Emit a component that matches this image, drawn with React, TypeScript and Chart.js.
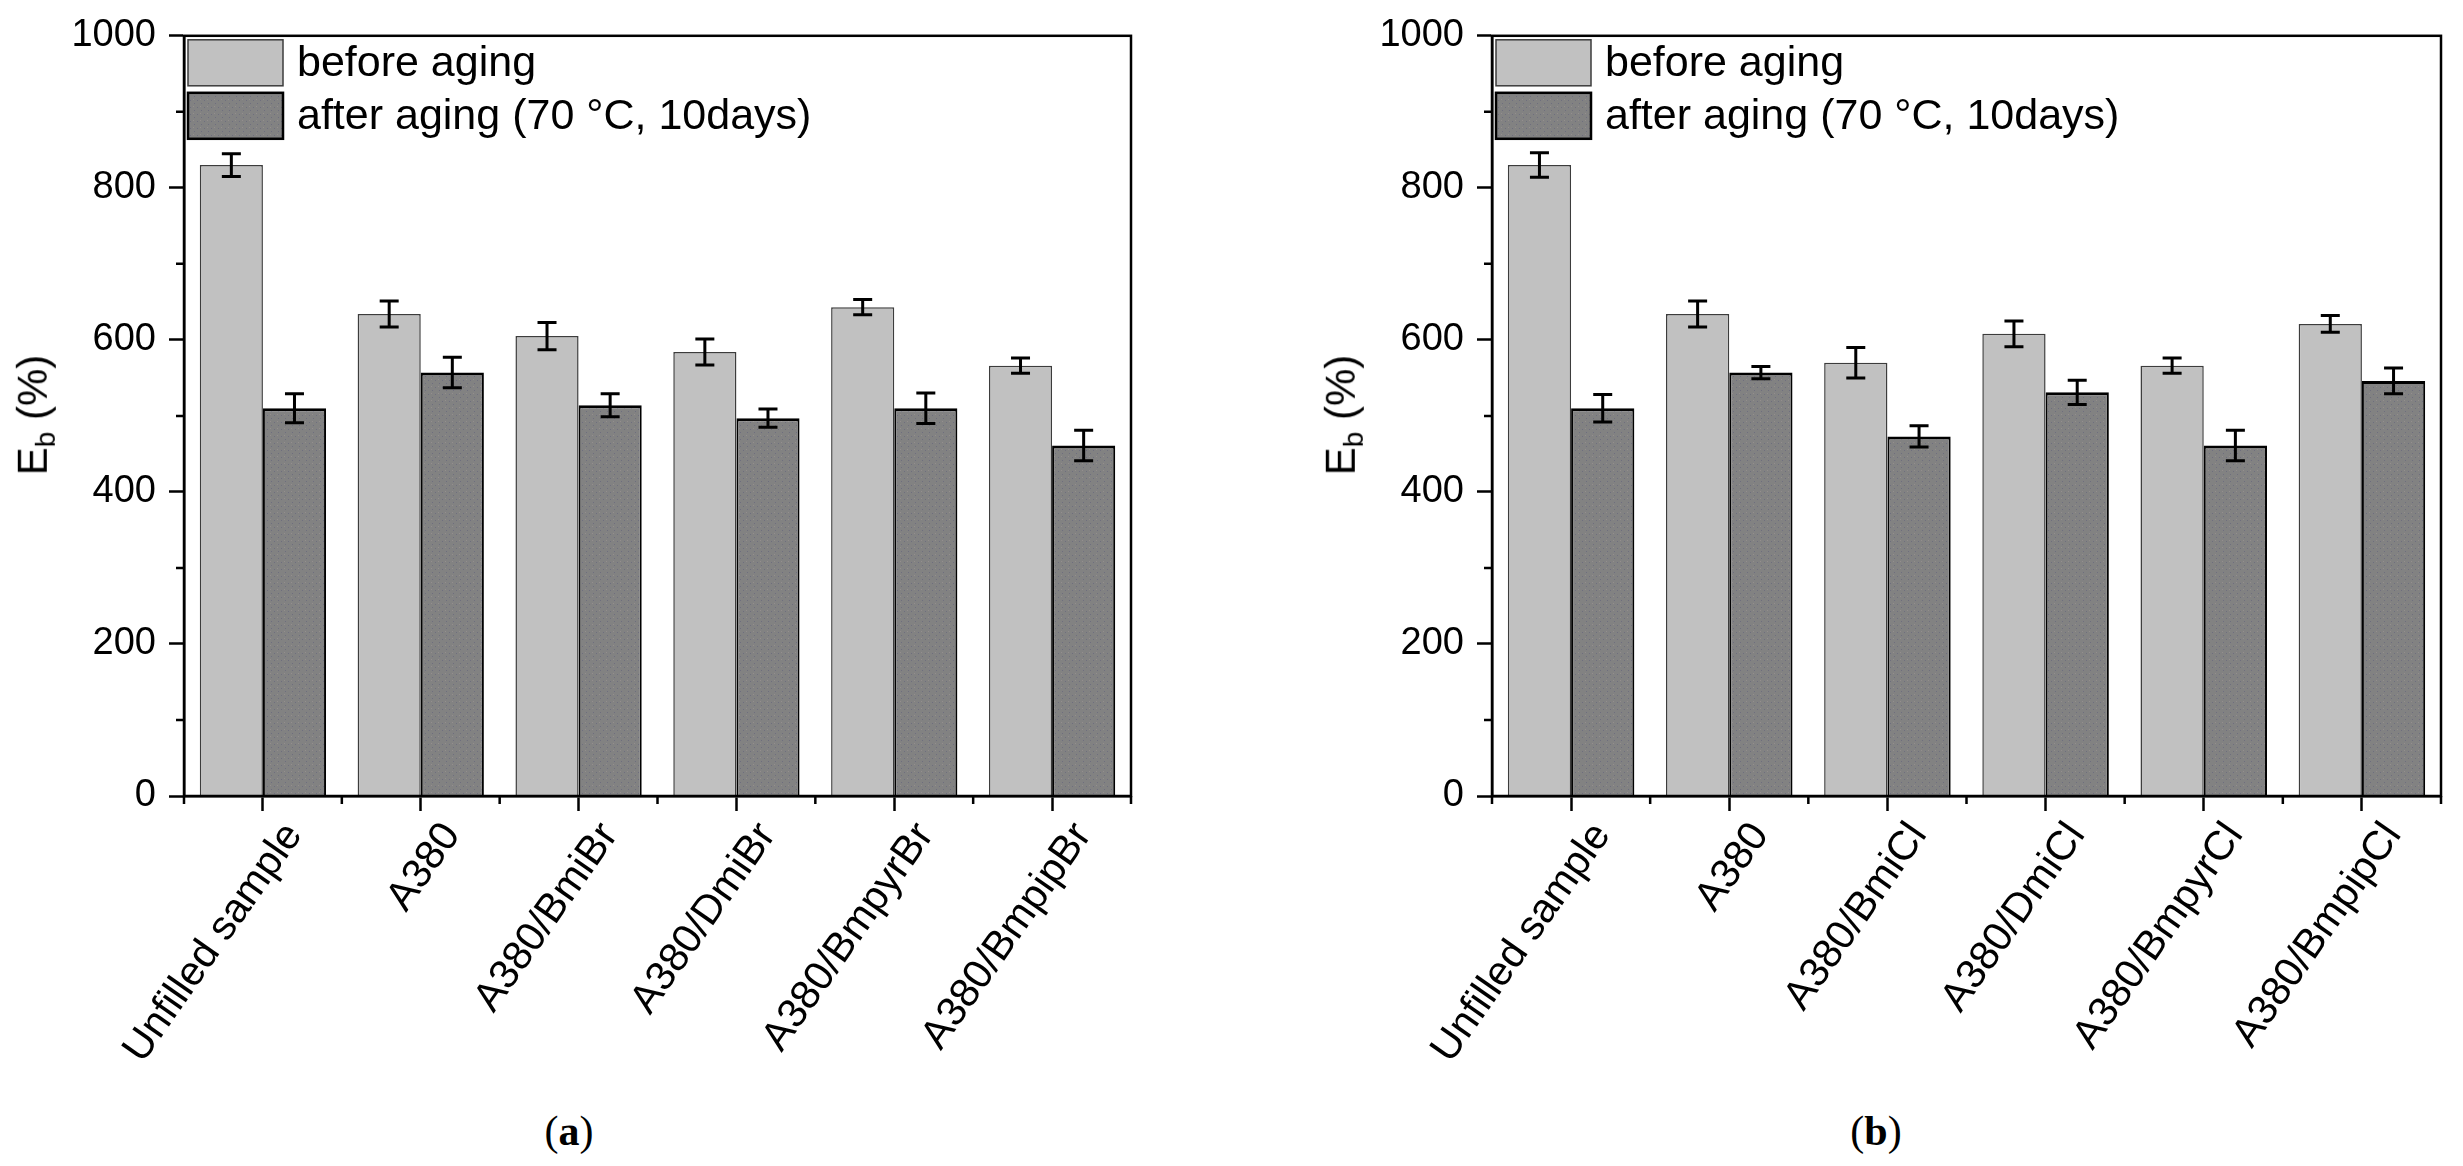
import React, { useEffect, useRef } from "react";
import { Chart, registerables } from "chart.js";

Chart.register(...registerables);

// ---------- data ----------
const categoriesA = ["Unfilled sample", "A380", "A380/BmiBr", "A380/DmiBr", "A380/BmpyrBr", "A380/BmpipBr"];
const categoriesB = ["Unfilled sample", "A380", "A380/BmiCl", "A380/DmiCl", "A380/BmpyrCl", "A380/BmpipCl"];
const seriesLabels = ["before aging", "after aging (70 °C, 10days)"];

const beforeA = [830, 634, 605, 584, 643, 566];
const beforeErrA = [15, 17, 18, 17, 10, 10];
const afterA = [510, 557, 514, 497, 510, 461];
const afterErrA = [19, 20, 15, 12, 20, 20];

const beforeB = [830, 634, 570, 608, 566, 621];
const beforeErrB = [16, 17, 20, 17, 10, 11];
const afterB = [510, 557, 473, 531, 461, 546];
const afterErrB = [18, 8, 14, 16, 20, 17];

const yMin = 0;
const yMax = 1000;
const yMajorStep = 200;
const yMinorValues = [100, 300, 500, 700, 900];

// ---------- layout / style ----------
const PAGE_W = 2463;
const PAGE_H = 1166;
const CANVAS_H = 1105;
const PLOT_TOP = 33;
const PLOT_BOTTOM = 796;
const YAXIS_W = 184;
const FONT = '"Liberation Sans", Arial, sans-serif';
const LIGHT = "#c1c1c1";
const LIGHT_BORDER = "#3c3c3c";

function makeDotPattern(ctx: CanvasRenderingContext2D): CanvasPattern | string {
  const c = document.createElement("canvas");
  c.width = 7;
  c.height = 7;
  const g = c.getContext("2d");
  if (!g) return "#818181";
  g.fillStyle = "#828282";
  g.fillRect(0, 0, 7, 7);
  g.fillStyle = "#6e6e7e";
  g.fillRect(1, 2, 1, 1);
  g.fillRect(5, 5, 1, 1);
  g.fillStyle = "#948e8e";
  g.fillRect(4, 1, 1, 1);
  const p = ctx.createPattern(c, "repeat");
  return p || "#818181";
}

const decorPlugin = {
  id: "decor",
  afterDatasetsDraw(chart: any) {
    const ctx: CanvasRenderingContext2D = chart.ctx;
    const { left, right, top, bottom } = chart.chartArea;
    const xs = chart.scales.x;
    const ys = chart.scales.y;
    ctx.save();
    // error bars
    chart.data.datasets.forEach((ds: any, i: number) => {
      const meta = chart.getDatasetMeta(i);
      meta.data.forEach((el: any, j: number) => {
        const v = ds.data[j];
        const e = ds.errors[j];
        const yT = ys.getPixelForValue(v + e);
        const yB = ys.getPixelForValue(v - e);
        const cx = el.x;
        ctx.strokeStyle = "#000";
        ctx.lineWidth = 3;
        ctx.beginPath();
        ctx.moveTo(cx, yT);
        ctx.lineTo(cx, yB);
        ctx.moveTo(cx - 9.5, yT);
        ctx.lineTo(cx + 9.5, yT);
        ctx.moveTo(cx - 9.5, yB);
        ctx.lineTo(cx + 9.5, yB);
        ctx.stroke();
      });
    });
    // frame
    ctx.strokeStyle = "#000";
    ctx.lineWidth = 2.5;
    ctx.strokeRect(left, top, right - left, bottom - top);
    // minor y ticks
    ctx.lineWidth = 2.5;
    ctx.beginPath();
    yMinorValues.forEach((v) => {
      const py = ys.getPixelForValue(v);
      ctx.moveTo(left - 8, py);
      ctx.lineTo(left, py);
    });
    // minor x ticks at category boundaries
    const n = chart.data.labels.length;
    for (let i = 0; i <= n; i++) {
      const px = xs.getPixelForValue(i - 0.5);
      ctx.moveTo(px, bottom);
      ctx.lineTo(px, bottom + 8);
    }
    ctx.stroke();
    // legend inside plot
    const bx = left + 4;
    const bw = 95;
    const bh = 46;
    const gap = 7;
    chart.data.datasets.forEach((ds: any, i: number) => {
      const by = top + 4 + i * (bh + gap);
      ctx.fillStyle = ds.backgroundColor;
      ctx.fillRect(bx, by, bw, bh);
      ctx.strokeStyle = i === 0 ? LIGHT_BORDER : "#000";
      ctx.lineWidth = i === 0 ? 1.5 : 2.5;
      ctx.strokeRect(bx, by, bw, bh);
      ctx.fillStyle = "#000";
      ctx.font = `43px ${FONT}`;
      ctx.textAlign = "left";
      ctx.textBaseline = "middle";
      ctx.fillText(ds.label, left + 113, by + bh / 2 + 1);
    });
    ctx.restore();
  },
};

type PanelProps = {
  left: number;
  width: number;
  plotRight: number;
  categories: string[];
  before: number[];
  beforeErr: number[];
  after: number[];
  afterErr: number[];
  caption: string;
  captionX: number;
};

function Panel(props: PanelProps) {
  const ref = useRef<HTMLCanvasElement | null>(null);
  const { left, width, plotRight, categories, before, beforeErr, after, afterErr, caption, captionX } = props;

  useEffect(() => {
    const canvas = ref.current;
    if (!canvas) return;
    const ctx = canvas.getContext("2d");
    if (!ctx) return;
    const pattern = makeDotPattern(ctx);
    const chart = new Chart(canvas, {
      type: "bar",
      data: {
        labels: categories,
        datasets: [
          {
            label: seriesLabels[0],
            data: before,
            errors: beforeErr,
            backgroundColor: LIGHT,
            borderColor: LIGHT_BORDER,
            borderWidth: 1.5,
            barPercentage: 1,
            categoryPercentage: 0.8,
          } as any,
          {
            label: seriesLabels[1],
            data: after,
            errors: afterErr,
            backgroundColor: pattern,
            borderColor: "#000",
            borderWidth: { top: 3, left: 2, right: 2, bottom: 0 },
            barPercentage: 1,
            categoryPercentage: 0.8,
          } as any,
        ],
      },
      options: {
        animation: false,
        responsive: false,
        devicePixelRatio: 1,
        layout: { padding: { left: 0, top: PLOT_TOP, right: width - plotRight, bottom: 0 } },
        plugins: {
          legend: { display: false },
          tooltip: { enabled: false },
          title: { display: false },
        },
        scales: {
          x: {
            type: "category",
            offset: true,
            afterFit: (s: any) => {
              s.height = CANVAS_H - PLOT_BOTTOM;
            },
            grid: {
              display: true,
              drawOnChartArea: false,
              drawTicks: true,
              offset: false,
              tickLength: 15,
              tickWidth: 2.5,
              tickColor: "#000",
            },
            border: { display: true, color: "#000", width: 2.5 },
            ticks: {
              color: "#000",
              font: { family: FONT, size: 41 },
              minRotation: 55,
              maxRotation: 55,
              autoSkip: false,
              padding: 3,
              labelOffset: 31,
            },
          },
          y: {
            type: "linear",
            min: yMin,
            max: yMax,
            afterFit: (s: any) => {
              s.width = YAXIS_W;
            },
            grid: {
              display: true,
              drawOnChartArea: false,
              drawTicks: true,
              tickLength: 15,
              tickWidth: 2.5,
              tickColor: "#000",
            },
            border: { display: true, color: "#000", width: 2.5 },
            ticks: {
              stepSize: yMajorStep,
              color: "#000",
              font: { family: FONT, size: 38 },
              padding: 13,
              callback: (v: any) => String(v),
            },
          },
        },
      } as any,
      plugins: [decorPlugin],
    });
    return () => chart.destroy();
  }, []);

  return (
    <div style={{ position: "absolute", left, top: 0, width, height: PAGE_H }}>
      <canvas ref={ref} width={width} height={CANVAS_H} style={{ position: "absolute", left: 0, top: 0, width, height: CANVAS_H }} />
      <div
        style={{
          position: "absolute",
          left: YAXIS_W - 148,
          top: (PLOT_TOP + PLOT_BOTTOM) / 2,
          transform: "translate(-50%, -50%) rotate(-90deg)",
          fontFamily: FONT,
          fontSize: 42,
          color: "#000",
          whiteSpace: "nowrap",
          lineHeight: 1,
        }}
      >
        E<sub style={{ fontSize: 28, verticalAlign: "-0.3em" }}>b</sub> (%)
      </div>
      <div
        style={{
          position: "absolute",
          left: captionX - left,
          top: 1131,
          transform: "translate(-50%, -50%)",
          fontFamily: '"Liberation Serif", "DejaVu Serif", serif',
          fontSize: 42,
          color: "#000",
          whiteSpace: "nowrap",
          lineHeight: 1,
        }}
      >
        (<b>{caption}</b>)
      </div>
    </div>
  );
}

export default function App() {
  return (
    <div style={{ position: "absolute", left: 0, top: 0, width: PAGE_W, height: PAGE_H, background: "#fff", overflow: "hidden" }}>
      <Panel
        left={0}
        width={1200}
        plotRight={1131}
        categories={categoriesA}
        before={beforeA}
        beforeErr={beforeErrA}
        after={afterA}
        afterErr={afterErrA}
        caption="a"
        captionX={569}
      />
      <Panel
        left={1308}
        width={PAGE_W - 1308}
        plotRight={2441 - 1308}
        categories={categoriesB}
        before={beforeB}
        beforeErr={beforeErrB}
        after={afterB}
        afterErr={afterErrB}
        caption="b"
        captionX={1876}
      />
    </div>
  );
}
